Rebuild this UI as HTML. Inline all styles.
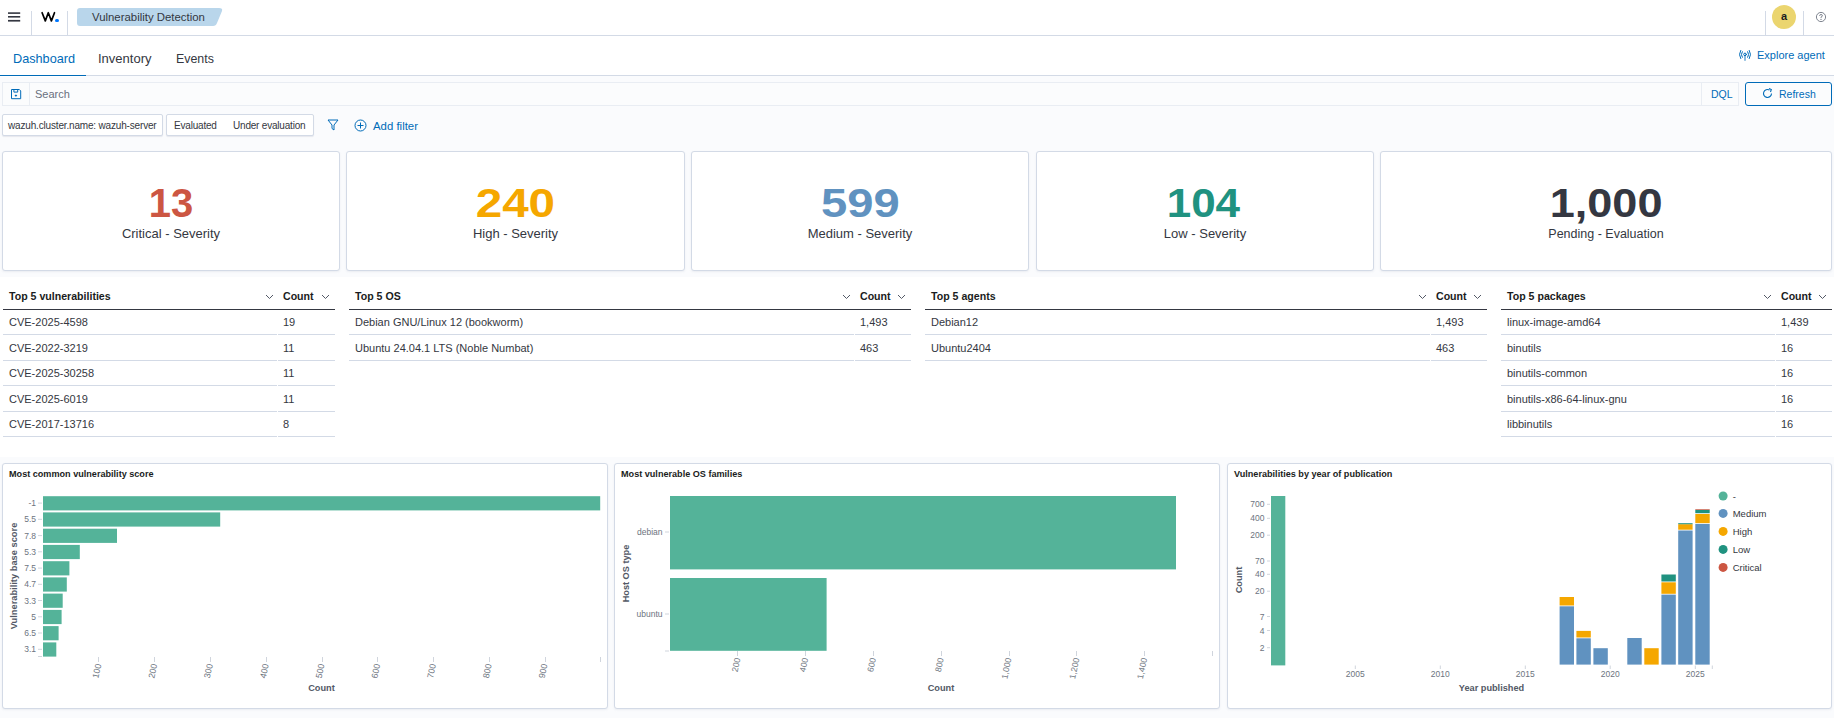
<!DOCTYPE html>
<html><head><meta charset="utf-8">
<style>
*{box-sizing:border-box;margin:0;padding:0}
html,body{width:1834px;height:718px;overflow:hidden}
body{background:#fafbfd;font-family:"Liberation Sans",sans-serif;color:#343741;position:relative}
.a{position:absolute;white-space:nowrap}
#hdr{left:0;top:0;width:1834px;height:36px;background:#fff;border-bottom:1px solid #d3dae6}
#tabs{left:0;top:36px;width:1834px;height:40px;background:#fff;border-bottom:1px solid #d3dae6}
.vdiv{width:1px;background:#d3dae6;top:11px;height:24px}
.card{background:#fff;border:1px solid #d3dae6;border-radius:3px;box-shadow:0 1px 2px rgba(152,162,179,.15)}
.num{font-weight:bold;font-size:40px;text-align:center;line-height:1}
.lbl{font-size:13px;text-align:center;color:#343741}
.th{font-weight:bold;font-size:10.6px;color:#1a1c21}
.td{font-size:11px;color:#343741}
.hb{height:2px;background:#343741}
.rb{height:1px;background:#d3dae6}
.chev{width:8px;height:5px}
.ptitle{font-weight:bold;font-size:9.1px;color:#1a1c21}
.tick{font-size:9px;color:#69707d}
.axt{font-weight:bold;font-size:10px;color:#535966}
</style></head><body>
<!-- header -->
<div class="a" id="hdr"></div>
<svg class="a" style="left:0;top:0" width="30" height="30" viewBox="0 0 30 30"><rect x="8" y="12.3" width="12.2" height="1.6" fill="#343741"/><rect x="8" y="16" width="12.2" height="1.6" fill="#343741"/><rect x="8" y="19.9" width="12.2" height="1.7" fill="#343741"/></svg>
<div class="a vdiv" style="left:31px"></div>
<svg class="a" style="left:36px;top:6px" width="24" height="20" viewBox="36 6 24 20"><path d="M42.1 12.7 L45.3 20.9 L48.3 12.7 L51.4 20.9 L54.5 12.7" fill="none" stroke="#000" stroke-width="1.7" stroke-linejoin="round" stroke-linecap="round"/></svg>
<div class="a" style="left:55.2px;top:18.6px;width:3.7px;height:3.7px;border-radius:50%;background:#0077ff"></div>
<div class="a vdiv" style="left:67px"></div>
<svg class="a" style="left:77px;top:8px" width="146" height="18" viewBox="0 0 146 18"><path d="M3 0 H142 Q146 0 145 3 L140 15 Q139 18 136 18 H3 Q0 18 0 15 V3 Q0 0 3 0Z" fill="#b9d6eb"/></svg>
<div class="a" style="left:92px;top:11px;font-size:11.4px;color:#343741">Vulnerability Detection</div>
<div class="a vdiv" style="left:1765px"></div>
<div class="a" style="left:1772px;top:5px;width:24px;height:24px;border-radius:50%;background:#ebd56f;text-align:center;font-size:11px;font-weight:bold;line-height:23px;color:#1a1c21">a</div>
<div class="a vdiv" style="left:1803px"></div>
<svg class="a" style="left:1815px;top:11px" width="12" height="12" viewBox="0 0 12 12"><circle cx="6" cy="6" r="4.6" fill="none" stroke="#69707d" stroke-width="0.85"/><path d="M4.6 4.9 Q4.6 3.5 6 3.5 Q7.4 3.5 7.4 4.8 Q7.4 5.6 6 6.1 V6.9" fill="none" stroke="#69707d" stroke-width="0.85"/><circle cx="6" cy="8.4" r="0.55" fill="#69707d"/></svg>

<!-- tabs -->
<div class="a" id="tabs"></div>
<div class="a" style="left:13px;top:52px;font-size:12.7px;color:#006bb8">Dashboard</div>
<div class="a" style="left:98px;top:51px;font-size:13px;color:#343741">Inventory</div>
<div class="a" style="left:176px;top:52px;font-size:12.4px;color:#343741">Events</div>
<div class="a" style="left:0px;top:75px;width:86px;height:1px;background:#006bb8"></div><div class="a" style="left:0px;top:76px;width:86px;height:1px;background:#fff"></div>
<svg class="a" style="left:1734px;top:45px" width="22" height="20" viewBox="1734 45 22 20"><g fill="none" stroke="#006bb8" stroke-width="1" stroke-linecap="round"><path d="M1740.7 50.4 Q1738.1 54.5 1740.7 58.6"/><path d="M1749.3 50.4 Q1751.9 54.5 1749.3 58.6"/><path d="M1742.3 51.7 Q1740.3 54.5 1742.3 57.3"/><path d="M1747.7 51.7 Q1749.7 54.5 1747.7 57.3"/><circle cx="1745" cy="54.4" r="1.3"/></g><path d="M1745 55.8 V60.8" stroke="#006bb8" stroke-width="1.3" opacity="0.7"/></svg>
<div class="a" style="left:1757px;top:49px;font-size:11px;color:#006bb8">Explore agent</div>

<!-- search bar -->
<div class="a" style="left:2px;top:82px;width:1737px;height:24px;background:#fbfcfd;border:1px solid #e9edf3"></div>
<div class="a" style="left:29px;top:83px;width:1px;height:22px;background:#e9edf3"></div>
<svg class="a" style="left:0;top:80px" width="30" height="26" viewBox="0 80 30 26"><g fill="none" stroke="#006bb8" stroke-width="1"><path d="M11.5 89.5 H19.3 L20.7 90.9 V98.7 H11.5 Z" stroke-linejoin="round"/><path d="M13.9 89.5 V92.1 H17.7 V89.5"/></g><path d="M15.9 94.4 L17.3 95.6 L15.9 96.8 L14.5 95.6 Z" fill="#006bb8"/></svg>
<div class="a" style="left:35px;top:88px;font-size:11px;color:#69707d">Search</div>
<div class="a" style="left:1701px;top:83px;width:1px;height:22px;background:#e9edf3"></div>
<div class="a" style="left:1711px;top:88px;font-size:10.5px;color:#006bb8">DQL</div>
<div class="a" style="left:1745px;top:82px;width:87px;height:24px;border:1.5px solid #006bb8;border-radius:3px;background:#fbfcfd"></div>
<svg class="a" style="left:1762px;top:88px" width="11" height="11" viewBox="0 0 11 11"><g fill="none" stroke="#006bb8" stroke-width="1.1"><path d="M9.5 5.5 A4 4 0 1 1 7.5 2"/><path d="M7 0.5 L9.3 1.5 L8.5 4"/></g></svg>
<div class="a" style="left:1779px;top:88px;font-size:10.5px;color:#006bb8">Refresh</div>

<!-- filters -->
<div class="a" style="left:2px;top:114px;width:161px;height:22px;background:#fff;border:1px solid #d3dae6;border-radius:2px;box-shadow:0 1px 1px rgba(152,162,179,.2)"></div>
<div class="a" style="left:8px;top:120px;font-size:10px;letter-spacing:-0.17px;color:#343741">wazuh.cluster.name: wazuh-server</div>
<div class="a" style="left:166px;top:114px;width:148px;height:22px;background:#fff;border:1px solid #d3dae6;border-radius:2px;box-shadow:0 1px 1px rgba(152,162,179,.2)"></div>
<div class="a" style="left:174px;top:120px;font-size:10px;letter-spacing:-0.2px;color:#343741">Evaluated</div>
<div class="a" style="left:233px;top:120px;font-size:10px;letter-spacing:-0.2px;color:#343741">Under evaluation</div>
<svg class="a" style="left:327px;top:119px" width="12" height="12" viewBox="0 0 12 12"><path d="M1 1 H11 L7 6 V11 L5 9.5 V6 Z" fill="none" stroke="#006bb8" stroke-width="1"/></svg>
<svg class="a" style="left:354px;top:119px" width="13" height="13" viewBox="0 0 13 13"><g fill="none" stroke="#006bb8" stroke-width="1"><circle cx="6.5" cy="6.5" r="5.5"/><path d="M6.5 3.5 V9.5 M3.5 6.5 H9.5"/></g></svg>
<div class="a" style="left:373px;top:120px;font-size:11.4px;color:#006bb8">Add filter</div>

<div class="a card" style="left:2px;top:151px;width:338px;height:120px"></div>
<div class="a num" style="left:2px;top:183px;width:338px;color:#cc5642"><span style="display:inline-block;transform:scaleX(1.0)">13</span></div>
<div class="a lbl" style="left:2px;top:226px;width:338px">Critical - Severity</div>
<div class="a card" style="left:346px;top:151px;width:339px;height:120px"></div>
<div class="a num" style="left:346px;top:183px;width:339px;color:#f5a700"><span style="display:inline-block;transform:scaleX(1.19)">240</span></div>
<div class="a lbl" style="left:346px;top:226px;width:339px">High - Severity</div>
<div class="a card" style="left:691px;top:151px;width:338px;height:120px"></div>
<div class="a num" style="left:691px;top:183px;width:338px;color:#6092c0"><span style="display:inline-block;transform:scaleX(1.18)">599</span></div>
<div class="a lbl" style="left:691px;top:226px;width:338px">Medium - Severity</div>
<div class="a card" style="left:1036px;top:151px;width:338px;height:120px"></div>
<div class="a num" style="left:1034px;top:183px;width:338px;color:#209280"><span style="display:inline-block;transform:scaleX(1.1)">104</span></div>
<div class="a lbl" style="left:1036px;top:226px;width:338px">Low - Severity</div>
<div class="a card" style="left:1380px;top:151px;width:452px;height:120px"></div>
<div class="a num" style="left:1380px;top:183px;width:452px;color:#343741"><span style="display:inline-block;transform:scaleX(1.127)">1,000</span></div>
<div class="a lbl" style="left:1380px;top:226px;width:452px;font-size:12.5px;margin-top:1px">Pending - Evaluation</div>
<div class="a" style="left:0;top:277px;width:1834px;height:180px;background:#fff"></div>
<div class="a th" style="left:9px;top:290px">Top 5 vulnerabilities</div>
<div class="a th" style="left:283px;top:290px">Count</div>
<svg class="a" style="left:265px;top:294px" width="9" height="6" viewBox="0 0 9 6"><path d="M1 1 L4.5 4.5 L8 1" fill="none" stroke="#535966" stroke-width="1"/></svg>
<svg class="a" style="left:321px;top:294px" width="9" height="6" viewBox="0 0 9 6"><path d="M1 1 L4.5 4.5 L8 1" fill="none" stroke="#535966" stroke-width="1"/></svg>
<div class="a hb" style="left:3px;top:309px;width:332px;height:1px"></div>
<div class="a td" style="left:9px;top:316px">CVE-2025-4598</div>
<div class="a td" style="left:283px;top:316px">19</div>
<div class="a rb" style="left:3px;top:334px;width:274px"></div>
<div class="a rb" style="left:278px;top:334px;width:57px"></div>
<div class="a td" style="left:9px;top:342px">CVE-2022-3219</div>
<div class="a td" style="left:283px;top:342px">11</div>
<div class="a rb" style="left:3px;top:360px;width:274px"></div>
<div class="a rb" style="left:278px;top:360px;width:57px"></div>
<div class="a td" style="left:9px;top:367px">CVE-2025-30258</div>
<div class="a td" style="left:283px;top:367px">11</div>
<div class="a rb" style="left:3px;top:385px;width:274px"></div>
<div class="a rb" style="left:278px;top:385px;width:57px"></div>
<div class="a td" style="left:9px;top:393px">CVE-2025-6019</div>
<div class="a td" style="left:283px;top:393px">11</div>
<div class="a rb" style="left:3px;top:411px;width:274px"></div>
<div class="a rb" style="left:278px;top:411px;width:57px"></div>
<div class="a td" style="left:9px;top:418px">CVE-2017-13716</div>
<div class="a td" style="left:283px;top:418px">8</div>
<div class="a rb" style="left:3px;top:436px;width:274px"></div>
<div class="a rb" style="left:278px;top:436px;width:57px"></div>
<div class="a th" style="left:355px;top:290px">Top 5 OS</div>
<div class="a th" style="left:860px;top:290px">Count</div>
<svg class="a" style="left:842px;top:294px" width="9" height="6" viewBox="0 0 9 6"><path d="M1 1 L4.5 4.5 L8 1" fill="none" stroke="#535966" stroke-width="1"/></svg>
<svg class="a" style="left:897px;top:294px" width="9" height="6" viewBox="0 0 9 6"><path d="M1 1 L4.5 4.5 L8 1" fill="none" stroke="#535966" stroke-width="1"/></svg>
<div class="a hb" style="left:349px;top:309px;width:562px;height:1px"></div>
<div class="a td" style="left:355px;top:316px">Debian GNU/Linux 12 (bookworm)</div>
<div class="a td" style="left:860px;top:316px">1,493</div>
<div class="a rb" style="left:349px;top:334px;width:505px"></div>
<div class="a rb" style="left:855px;top:334px;width:56px"></div>
<div class="a td" style="left:355px;top:342px">Ubuntu 24.04.1 LTS (Noble Numbat)</div>
<div class="a td" style="left:860px;top:342px">463</div>
<div class="a rb" style="left:349px;top:360px;width:505px"></div>
<div class="a rb" style="left:855px;top:360px;width:56px"></div>
<div class="a th" style="left:931px;top:290px">Top 5 agents</div>
<div class="a th" style="left:1436px;top:290px">Count</div>
<svg class="a" style="left:1418px;top:294px" width="9" height="6" viewBox="0 0 9 6"><path d="M1 1 L4.5 4.5 L8 1" fill="none" stroke="#535966" stroke-width="1"/></svg>
<svg class="a" style="left:1473px;top:294px" width="9" height="6" viewBox="0 0 9 6"><path d="M1 1 L4.5 4.5 L8 1" fill="none" stroke="#535966" stroke-width="1"/></svg>
<div class="a hb" style="left:925px;top:309px;width:562px;height:1px"></div>
<div class="a td" style="left:931px;top:316px">Debian12</div>
<div class="a td" style="left:1436px;top:316px">1,493</div>
<div class="a rb" style="left:925px;top:334px;width:505px"></div>
<div class="a rb" style="left:1431px;top:334px;width:56px"></div>
<div class="a td" style="left:931px;top:342px">Ubuntu2404</div>
<div class="a td" style="left:1436px;top:342px">463</div>
<div class="a rb" style="left:925px;top:360px;width:505px"></div>
<div class="a rb" style="left:1431px;top:360px;width:56px"></div>
<div class="a th" style="left:1507px;top:290px">Top 5 packages</div>
<div class="a th" style="left:1781px;top:290px">Count</div>
<svg class="a" style="left:1763px;top:294px" width="9" height="6" viewBox="0 0 9 6"><path d="M1 1 L4.5 4.5 L8 1" fill="none" stroke="#535966" stroke-width="1"/></svg>
<svg class="a" style="left:1818px;top:294px" width="9" height="6" viewBox="0 0 9 6"><path d="M1 1 L4.5 4.5 L8 1" fill="none" stroke="#535966" stroke-width="1"/></svg>
<div class="a hb" style="left:1501px;top:309px;width:331px;height:1px"></div>
<div class="a td" style="left:1507px;top:316px">linux-image-amd64</div>
<div class="a td" style="left:1781px;top:316px">1,439</div>
<div class="a rb" style="left:1501px;top:334px;width:274px"></div>
<div class="a rb" style="left:1776px;top:334px;width:56px"></div>
<div class="a td" style="left:1507px;top:342px">binutils</div>
<div class="a td" style="left:1781px;top:342px">16</div>
<div class="a rb" style="left:1501px;top:360px;width:274px"></div>
<div class="a rb" style="left:1776px;top:360px;width:56px"></div>
<div class="a td" style="left:1507px;top:367px">binutils-common</div>
<div class="a td" style="left:1781px;top:367px">16</div>
<div class="a rb" style="left:1501px;top:385px;width:274px"></div>
<div class="a rb" style="left:1776px;top:385px;width:56px"></div>
<div class="a td" style="left:1507px;top:393px">binutils-x86-64-linux-gnu</div>
<div class="a td" style="left:1781px;top:393px">16</div>
<div class="a rb" style="left:1501px;top:411px;width:274px"></div>
<div class="a rb" style="left:1776px;top:411px;width:56px"></div>
<div class="a td" style="left:1507px;top:418px">libbinutils</div>
<div class="a td" style="left:1781px;top:418px">16</div>
<div class="a rb" style="left:1501px;top:436px;width:274px"></div>
<div class="a rb" style="left:1776px;top:436px;width:56px"></div>
<div class="a card" style="left:2px;top:463px;width:606px;height:246px"></div>
<div class="a ptitle" style="left:9px;top:469px">Most common vulnerability score</div>
<div class="a card" style="left:614px;top:463px;width:606px;height:246px"></div>
<div class="a ptitle" style="left:621px;top:469px">Most vulnerable OS families</div>
<div class="a card" style="left:1227px;top:463px;width:605px;height:246px"></div>
<div class="a ptitle" style="left:1234px;top:469px">Vulnerabilities by year of publication</div>
<svg class="a" style="left:0;top:0" width="1834" height="718" viewBox="0 0 1834 718"><rect x="43" y="496.2" width="557.2" height="14.2" fill="#54b399"/><line x1="38" y1="503.1" x2="42" y2="503.1" stroke="#d0d5dd" stroke-width="1"/><text x="36" y="506.1" text-anchor="end" font-size="8.5" fill="#6d7480">-1</text><rect x="43" y="512.4" width="177.2" height="14.2" fill="#54b399"/><line x1="38" y1="519.3" x2="42" y2="519.3" stroke="#d0d5dd" stroke-width="1"/><text x="36" y="522.3" text-anchor="end" font-size="8.5" fill="#6d7480">5.5</text><rect x="43" y="528.7" width="74.0" height="14.2" fill="#54b399"/><line x1="38" y1="535.6" x2="42" y2="535.6" stroke="#d0d5dd" stroke-width="1"/><text x="36" y="538.6" text-anchor="end" font-size="8.5" fill="#6d7480">7.8</text><rect x="43" y="544.9" width="36.8" height="14.2" fill="#54b399"/><line x1="38" y1="551.8" x2="42" y2="551.8" stroke="#d0d5dd" stroke-width="1"/><text x="36" y="554.8" text-anchor="end" font-size="8.5" fill="#6d7480">5.3</text><rect x="43" y="561.2" width="26.4" height="14.2" fill="#54b399"/><line x1="38" y1="568.1" x2="42" y2="568.1" stroke="#d0d5dd" stroke-width="1"/><text x="36" y="571.1" text-anchor="end" font-size="8.5" fill="#6d7480">7.5</text><rect x="43" y="577.4" width="23.8" height="14.2" fill="#54b399"/><line x1="38" y1="584.3" x2="42" y2="584.3" stroke="#d0d5dd" stroke-width="1"/><text x="36" y="587.3" text-anchor="end" font-size="8.5" fill="#6d7480">4.7</text><rect x="43" y="593.6" width="19.7" height="14.2" fill="#54b399"/><line x1="38" y1="600.5" x2="42" y2="600.5" stroke="#d0d5dd" stroke-width="1"/><text x="36" y="603.5" text-anchor="end" font-size="8.5" fill="#6d7480">3.3</text><rect x="43" y="609.9" width="18.6" height="14.2" fill="#54b399"/><line x1="38" y1="616.8" x2="42" y2="616.8" stroke="#d0d5dd" stroke-width="1"/><text x="36" y="619.8" text-anchor="end" font-size="8.5" fill="#6d7480">5</text><rect x="43" y="626.1" width="15.6" height="14.2" fill="#54b399"/><line x1="38" y1="633.0" x2="42" y2="633.0" stroke="#d0d5dd" stroke-width="1"/><text x="36" y="636.0" text-anchor="end" font-size="8.5" fill="#6d7480">6.5</text><rect x="43" y="642.4" width="13.3" height="14.2" fill="#54b399"/><line x1="38" y1="649.3" x2="42" y2="649.3" stroke="#d0d5dd" stroke-width="1"/><text x="36" y="652.3" text-anchor="end" font-size="8.5" fill="#6d7480">3.1</text><line x1="38" y1="656.5" x2="42" y2="656.5" stroke="#d0d5dd"/><line x1="98.5" y1="657" x2="98.5" y2="662" stroke="#d0d5dd"/><text transform="translate(101.4,664.5) rotate(-78)" text-anchor="end" font-size="8.8" fill="#6d7480">100</text><line x1="154.5" y1="657" x2="154.5" y2="662" stroke="#d0d5dd"/><text transform="translate(157.2,664.5) rotate(-78)" text-anchor="end" font-size="8.8" fill="#6d7480">200</text><line x1="210.5" y1="657" x2="210.5" y2="662" stroke="#d0d5dd"/><text transform="translate(212.9,664.5) rotate(-78)" text-anchor="end" font-size="8.8" fill="#6d7480">300</text><line x1="266.5" y1="657" x2="266.5" y2="662" stroke="#d0d5dd"/><text transform="translate(268.7,664.5) rotate(-78)" text-anchor="end" font-size="8.8" fill="#6d7480">400</text><line x1="322.5" y1="657" x2="322.5" y2="662" stroke="#d0d5dd"/><text transform="translate(324.5,664.5) rotate(-78)" text-anchor="end" font-size="8.8" fill="#6d7480">500</text><line x1="377.5" y1="657" x2="377.5" y2="662" stroke="#d0d5dd"/><text transform="translate(380.3,664.5) rotate(-78)" text-anchor="end" font-size="8.8" fill="#6d7480">600</text><line x1="433.5" y1="657" x2="433.5" y2="662" stroke="#d0d5dd"/><text transform="translate(436.1,664.5) rotate(-78)" text-anchor="end" font-size="8.8" fill="#6d7480">700</text><line x1="489.5" y1="657" x2="489.5" y2="662" stroke="#d0d5dd"/><text transform="translate(491.8,664.5) rotate(-78)" text-anchor="end" font-size="8.8" fill="#6d7480">800</text><line x1="545.5" y1="657" x2="545.5" y2="662" stroke="#d0d5dd"/><text transform="translate(547.6,664.5) rotate(-78)" text-anchor="end" font-size="8.8" fill="#6d7480">900</text><line x1="600.5" y1="657" x2="600.5" y2="662" stroke="#d0d5dd"/><text x="321.5" y="691" text-anchor="middle" font-size="9.2" font-weight="bold" fill="#535966">Count</text><text transform="translate(16.5,576) rotate(-90)" text-anchor="middle" font-size="9.3" font-weight="bold" fill="#535966">Vulnerability base score</text><rect x="670" y="496" width="506" height="73.4" fill="#54b399"/><rect x="670" y="578" width="156.6" height="72.8" fill="#54b399"/><line x1="665" y1="532" x2="669" y2="532" stroke="#d0d5dd"/><line x1="665" y1="614" x2="669" y2="614" stroke="#d0d5dd"/><line x1="665" y1="651" x2="669" y2="651" stroke="#d0d5dd"/><text x="662.5" y="535" text-anchor="end" font-size="8.5" fill="#6d7480">debian</text><text x="662.5" y="617" text-anchor="end" font-size="8.5" fill="#6d7480">ubuntu</text><line x1="737.5" y1="651" x2="737.5" y2="656" stroke="#d0d5dd"/><text transform="translate(740.4,658.5) rotate(-78)" text-anchor="end" font-size="8.6" fill="#6d7480">200</text><line x1="805.5" y1="651" x2="805.5" y2="656" stroke="#d0d5dd"/><text transform="translate(808.2,658.5) rotate(-78)" text-anchor="end" font-size="8.6" fill="#6d7480">400</text><line x1="873.5" y1="651" x2="873.5" y2="656" stroke="#d0d5dd"/><text transform="translate(876.0,658.5) rotate(-78)" text-anchor="end" font-size="8.6" fill="#6d7480">600</text><line x1="941.5" y1="651" x2="941.5" y2="656" stroke="#d0d5dd"/><text transform="translate(943.8,658.5) rotate(-78)" text-anchor="end" font-size="8.6" fill="#6d7480">800</text><line x1="1009.5" y1="651" x2="1009.5" y2="656" stroke="#d0d5dd"/><text transform="translate(1011.6,658.5) rotate(-78)" text-anchor="end" font-size="8.6" fill="#6d7480">1,000</text><line x1="1076.5" y1="651" x2="1076.5" y2="656" stroke="#d0d5dd"/><text transform="translate(1079.4,658.5) rotate(-78)" text-anchor="end" font-size="8.6" fill="#6d7480">1,200</text><line x1="1144.5" y1="651" x2="1144.5" y2="656" stroke="#d0d5dd"/><text transform="translate(1147.2,658.5) rotate(-78)" text-anchor="end" font-size="8.6" fill="#6d7480">1,400</text><line x1="1212.5" y1="651" x2="1212.5" y2="656" stroke="#d0d5dd"/><text x="941" y="691" text-anchor="middle" font-size="9.2" font-weight="bold" fill="#535966">Count</text><text transform="translate(628.5,573.5) rotate(-90)" text-anchor="middle" font-size="9.2" font-weight="bold" fill="#535966">Host OS type</text><rect x="1271" y="496" width="14.3" height="169.4" fill="#54b399"/><rect x="1559.6" y="606.3" width="14.4" height="58.3" fill="#6092c0"/><rect x="1559.6" y="597.0" width="14.4" height="8.5" fill="#f5a700"/><rect x="1576.4" y="638.3" width="14.4" height="26.3" fill="#6092c0"/><rect x="1576.4" y="630.9" width="14.4" height="6.6" fill="#f5a700"/><rect x="1593.4" y="648.2" width="14.4" height="16.4" fill="#6092c0"/><rect x="1627.3" y="638.0" width="14.4" height="26.6" fill="#6092c0"/><rect x="1644.3" y="648.2" width="14.4" height="16.4" fill="#f5a700"/><rect x="1661.4" y="594.6" width="14.4" height="70.0" fill="#6092c0"/><rect x="1661.4" y="582.3" width="14.4" height="11.5" fill="#f5a700"/><rect x="1661.4" y="574.5" width="14.4" height="7.0" fill="#209280"/><rect x="1678.2" y="530.5" width="14.4" height="134.1" fill="#6092c0"/><rect x="1678.2" y="524.2" width="14.4" height="5.5" fill="#f5a700"/><rect x="1678.2" y="523.2" width="14.4" height="1.0" fill="#209280"/><rect x="1695.3" y="523.9" width="14.4" height="140.7" fill="#6092c0"/><rect x="1695.3" y="514.0" width="14.4" height="9.1" fill="#f5a700"/><rect x="1695.3" y="509.9" width="14.4" height="3.3" fill="#209280"/><rect x="1695.3" y="509.2" width="14.4" height="0.7" fill="#cc5642"/><line x1="1267" y1="504.3" x2="1270" y2="504.3" stroke="#d0d5dd"/><text x="1264.5" y="507.3" text-anchor="end" font-size="8.5" fill="#6d7480">700</text><line x1="1267" y1="518.3" x2="1270" y2="518.3" stroke="#d0d5dd"/><text x="1264.5" y="521.3" text-anchor="end" font-size="8.5" fill="#6d7480">400</text><line x1="1267" y1="535.2" x2="1270" y2="535.2" stroke="#d0d5dd"/><text x="1264.5" y="538.2" text-anchor="end" font-size="8.5" fill="#6d7480">200</text><line x1="1267" y1="561" x2="1270" y2="561" stroke="#d0d5dd"/><text x="1264.5" y="564.0" text-anchor="end" font-size="8.5" fill="#6d7480">70</text><line x1="1267" y1="574.3" x2="1270" y2="574.3" stroke="#d0d5dd"/><text x="1264.5" y="577.3" text-anchor="end" font-size="8.5" fill="#6d7480">40</text><line x1="1267" y1="591.2" x2="1270" y2="591.2" stroke="#d0d5dd"/><text x="1264.5" y="594.2" text-anchor="end" font-size="8.5" fill="#6d7480">20</text><line x1="1267" y1="616.5" x2="1270" y2="616.5" stroke="#d0d5dd"/><text x="1264.5" y="619.5" text-anchor="end" font-size="8.5" fill="#6d7480">7</text><line x1="1267" y1="630.5" x2="1270" y2="630.5" stroke="#d0d5dd"/><text x="1264.5" y="633.5" text-anchor="end" font-size="8.5" fill="#6d7480">4</text><line x1="1267" y1="647.7" x2="1270" y2="647.7" stroke="#d0d5dd"/><text x="1264.5" y="650.7" text-anchor="end" font-size="8.5" fill="#6d7480">2</text><line x1="1355.3" y1="665.5" x2="1355.3" y2="669" stroke="#d0d5dd"/><text x="1355.3" y="676.5" text-anchor="middle" font-size="8.5" fill="#6d7480">2005</text><line x1="1440.3" y1="665.5" x2="1440.3" y2="669" stroke="#d0d5dd"/><text x="1440.3" y="676.5" text-anchor="middle" font-size="8.5" fill="#6d7480">2010</text><line x1="1525.3" y1="665.5" x2="1525.3" y2="669" stroke="#d0d5dd"/><text x="1525.3" y="676.5" text-anchor="middle" font-size="8.5" fill="#6d7480">2015</text><line x1="1610.2" y1="665.5" x2="1610.2" y2="669" stroke="#d0d5dd"/><text x="1610.2" y="676.5" text-anchor="middle" font-size="8.5" fill="#6d7480">2020</text><line x1="1695.3" y1="665.5" x2="1695.3" y2="669" stroke="#d0d5dd"/><text x="1695.3" y="676.5" text-anchor="middle" font-size="8.5" fill="#6d7480">2025</text><line x1="1712.3" y1="665.5" x2="1712.3" y2="669" stroke="#d0d5dd"/><text x="1491.5" y="691" text-anchor="middle" font-size="9.2" font-weight="bold" fill="#535966">Year published</text><text transform="translate(1241.5,580) rotate(-90)" text-anchor="middle" font-size="9.2" font-weight="bold" fill="#535966">Count</text><circle cx="1723.1" cy="496" r="4.5" fill="#54b399"/><text x="1732.7" y="499.5" font-size="9.5" fill="#343741">-</text><circle cx="1723.1" cy="513.4" r="4.5" fill="#6092c0"/><text x="1732.7" y="516.9" font-size="9.5" fill="#343741">Medium</text><circle cx="1723.1" cy="531.4" r="4.5" fill="#f5a700"/><text x="1732.7" y="534.9" font-size="9.5" fill="#343741">High</text><circle cx="1723.1" cy="549.4" r="4.5" fill="#209280"/><text x="1732.7" y="552.9" font-size="9.5" fill="#343741">Low</text><circle cx="1723.1" cy="567.4" r="4.5" fill="#cc5642"/><text x="1732.7" y="570.9" font-size="9.5" fill="#343741">Critical</text></svg>
</body></html>
